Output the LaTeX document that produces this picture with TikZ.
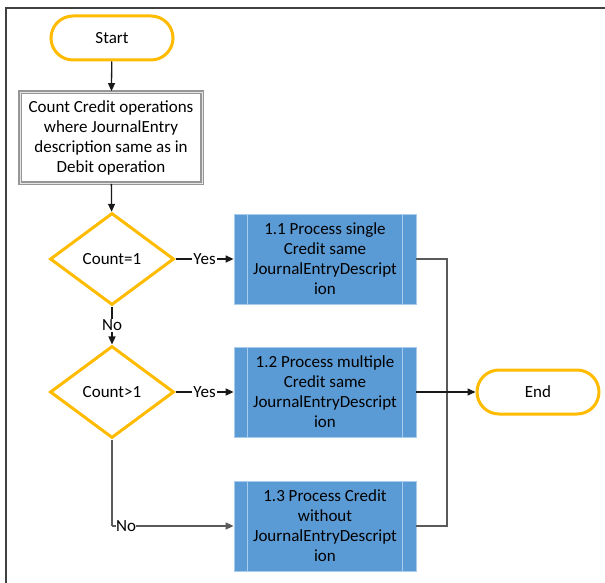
\documentclass[tikz,border=0pt]{standalone}
\usepackage{fontspec}
\setmainfont{Carlito}
\usetikzlibrary{arrows.meta,shapes.geometric,calc}
\definecolor{termc}{RGB}{255,187,0}
\definecolor{procblue}{RGB}{91,155,213}
\definecolor{procedge}{RGB}{170,204,236}
\definecolor{linegray}{RGB}{90,90,90}
\definecolor{boxgray}{RGB}{150,150,150}
\tikzset{
  txt/.style={font=\fontsize{17}{20}\selectfont, align=center},
  term/.style={txt, draw=termc, line width=3pt, rounded corners=22pt, minimum width=122pt, minimum height=44pt, fill=white},
  decide/.style={txt, draw=termc, line width=3pt, diamond, aspect=1.35, minimum width=124pt, minimum height=92pt, inner sep=0pt},
  initbox/.style={txt, draw=boxgray, double=boxgray!25, double distance=0.9pt, line width=1.8pt, minimum width=182pt, minimum height=91pt, inner sep=0pt},
  subproc/.style={txt, fill=procblue, draw=procedge, line width=0.8pt, minimum width=182pt, minimum height=90pt, inner sep=0pt},
  conn/.style={line width=1.3pt, draw=black!90},
  gconn/.style={line width=1.3pt, draw=linegray},
  tip/.style={-{Triangle[length=8pt,width=7pt]}},
  lbl/.style={font=\fontsize{17}{20}\selectfont, fill=white, inner sep=1pt},
}
\begin{document}
\begin{tikzpicture}[x=1pt,y=-1pt]
\useasboundingbox (0,0) rectangle (605,583);
% frame
\draw[line width=1.5pt, draw=black!75] (605,8) -- (6,8) -- (6,583);

\node[term] (start) at (112,38) {Start};
\node[initbox] (count) at (111,137.5) {Count Credit operations\\where JournalEntry\\description same as in\\Debit operation};
\node[decide] (d1) at (112,259) {Count=1};
\node[decide] (d2) at (112,392) {Count>1};
\node[subproc] (p1) at (325,259) {1.1 Process single\\Credit same\\JournalEntryDescript\\ion};
\node[subproc] (p2) at (325,392) {1.2 Process multiple\\Credit same\\JournalEntryDescript\\ion};
\node[subproc] (p3) at (325,526) {1.3 Process Credit\\without\\JournalEntryDescript\\ion};
\node[term] (end) at (538,392) {End};

% inner lines of sub-process boxes
\foreach \p in {p1,p2,p3}{
  \draw[procedge, line width=1pt] ($(\p.north west)+(14,0)$) -- ($(\p.south west)+(14,0)$);
  \draw[procedge, line width=1pt] ($(\p.north east)+(-14,0)$) -- ($(\p.south east)+(-14,0)$);
}

\draw[conn,tip] (start) -- (count);
\draw[conn,tip] (count) -- (d1);
\draw[conn,tip] (d1) -- node[lbl] {No} (d2);
\draw[conn,tip] (d1) -- node[lbl, pos=0.5] {Yes} (p1);
\draw[conn,tip] (d2) -- node[lbl, pos=0.5] {Yes} (p2);
\coordinate (corner) at (d2.south |- p3.west);
\draw[gconn] (d2.south) -- (corner);
\draw[gconn,tip] (corner) -- (p3.west);
\node[lbl, inner sep=0.5pt] at ($(corner)+(14,0)$) {No};

\coordinate (m1) at (447,259);
\coordinate (m3) at (447,526);
\draw[gconn] (p1.east) -- (m1) -- (m3) -- (p3.east);
\draw[conn,tip] (p2.east) -- (end.west);
\end{tikzpicture}
\end{document}
